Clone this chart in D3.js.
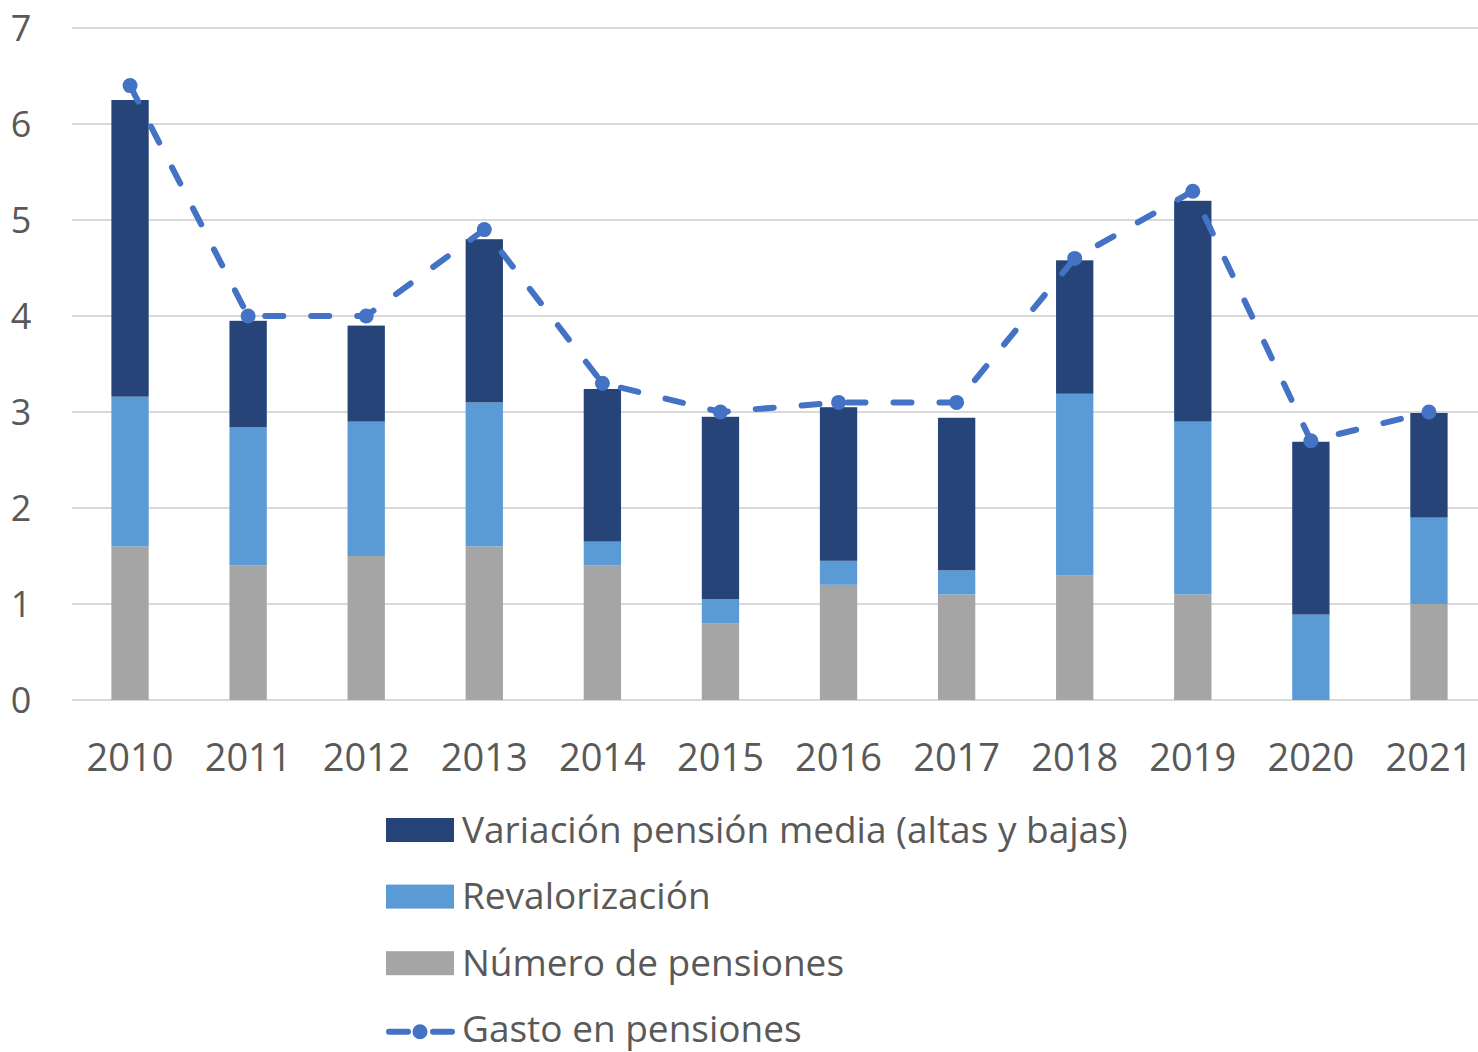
<!DOCTYPE html>
<html>
<head>
<meta charset="utf-8">
<script src="https://cdn.jsdelivr.net/npm/d3@7"></script>
<style>
  body { margin: 0; background: #fff; overflow: hidden; }
  text { font-family: "Open Sans", sans-serif; fill: #595959; }
</style>
</head>
<body>
<div class="chart"></div>
<script>
const years = ["2010","2011","2012","2013","2014","2015","2016","2017","2018","2019","2020","2021"];
const numeroPensiones = [1.6, 1.4, 1.5, 1.6, 1.4, 0.8, 1.2, 1.1, 1.3, 1.1, 0.0, 1.0];
const revalorizacion  = [1.56, 1.44, 1.4, 1.5, 0.25, 0.25, 0.25, 0.25, 1.89, 1.8, 0.89, 0.9];
const variacionMedia  = [3.09, 1.11, 1.0, 1.7, 1.59, 1.9, 1.6, 1.59, 1.39, 2.3, 1.8, 1.09];
const gastoPensiones  = [6.4, 4.0, 4.0, 4.9, 3.3, 3.0, 3.1, 3.1, 4.6, 5.3, 2.7, 3.0];
const yTicks = [0, 1, 2, 3, 4, 5, 6, 7];

const seriesInfo = [
  {key: "num", label: "Número de pensiones", color: "#a5a5a5"},
  {key: "rev", label: "Revalorización", color: "#5b9bd5"},
  {key: "var", label: "Variación pensión media (altas y bajas)", color: "#264478"}
];
const lineColor = "#4472c4";

const width = 1478, height = 1052;
const plot = {left: 72, right: 1478, top: 28, bottom: 700};

const svg = d3.select(".chart").append("svg")
  .attr("width", width)
  .attr("height", height);

const rows = years.map((y, i) => ({
  year: y,
  num: numeroPensiones[i],
  rev: revalorizacion[i],
  var: variacionMedia[i],
  gasto: gastoPensiones[i]
}));

// category band runs a bit past the right edge, as in the original
const x = d3.scaleBand().domain(years).range([71, 1488]).paddingInner(0.684).paddingOuter(0.342);
const y = d3.scaleLinear().domain([0, 7]).range([plot.bottom, plot.top]);
const cx = d => x(d) + x.bandwidth() / 2;

// gridlines
svg.append("g").selectAll("line")
  .data(yTicks)
  .join("line")
    .attr("x1", plot.left)
    .attr("x2", plot.right)
    .attr("y1", d => y(d))
    .attr("y2", d => y(d))
    .attr("stroke", "#d9d9d9")
    .attr("stroke-width", 2);

// y labels
svg.append("g").selectAll("text")
  .data(yTicks)
  .join("text")
    .attr("x", 21)
    .attr("y", d => y(d))
    .attr("dy", "0.36em")
    .attr("text-anchor", "middle")
    .attr("font-size", "36px")
    .text(d => d);

// stacked bars
const stacked = d3.stack().keys(seriesInfo.map(s => s.key))(rows);

svg.append("g").selectAll("g")
  .data(stacked)
  .join("g")
    .attr("fill", (d, i) => seriesInfo[i].color)
  .selectAll("rect")
  .data(d => d)
  .join("rect")
    .attr("x", d => x(d.data.year))
    .attr("width", x.bandwidth())
    .attr("y", d => y(d[1]))
    .attr("height", d => y(d[0]) - y(d[1]));

// x labels
svg.append("g").selectAll("text")
  .data(years)
  .join("text")
    .attr("x", d => cx(d))
    .attr("y", 757)
    .attr("dy", "0.36em")
    .attr("text-anchor", "middle")
    .attr("font-size", "38px")
    .text(d => d);

// line
const line = d3.line()
  .x(d => cx(d.year))
  .y(d => y(d.gasto));

svg.append("path")
  .datum(rows)
  .attr("fill", "none")
  .attr("stroke", lineColor)
  .attr("stroke-width", 6)
  .attr("stroke-linecap", "round")
  .attr("stroke-dasharray", "18,28")
  .attr("d", line);

svg.append("g").selectAll("circle")
  .data(rows)
  .join("circle")
    .attr("cx", d => cx(d.year))
    .attr("cy", d => y(d.gasto))
    .attr("r", 7.5)
    .attr("fill", lineColor);

// legend
const legendItems = [
  {label: seriesInfo[2].label, color: seriesInfo[2].color, type: "rect"},
  {label: seriesInfo[1].label, color: seriesInfo[1].color, type: "rect"},
  {label: seriesInfo[0].label, color: seriesInfo[0].color, type: "rect"},
  {label: "Gasto en pensiones", color: lineColor, type: "line"}
];

const lg = svg.append("g").selectAll("g")
  .data(legendItems)
  .join("g")
    .attr("transform", (d, i) => `translate(386, ${830 + i * 66.6})`);

lg.filter(d => d.type === "rect").append("rect")
  .attr("x", 0)
  .attr("y", -12)
  .attr("width", 68)
  .attr("height", 24)
  .attr("fill", d => d.color);

const ll = lg.filter(d => d.type === "line");
ll.append("line")
  .attr("x1", 3).attr("x2", 22).attr("y1", 2).attr("y2", 2)
  .attr("stroke", lineColor).attr("stroke-width", 6).attr("stroke-linecap", "round");
ll.append("line")
  .attr("x1", 47).attr("x2", 66).attr("y1", 2).attr("y2", 2)
  .attr("stroke", lineColor).attr("stroke-width", 6).attr("stroke-linecap", "round");
ll.append("circle")
  .attr("cx", 34).attr("cy", 2).attr("r", 7.5).attr("fill", lineColor);

lg.append("text")
  .attr("x", 76)
  .attr("y", 0)
  .attr("dy", "0.34em")
  .attr("font-size", "37px")
  .text(d => d.label);
</script>
</body>
</html>
